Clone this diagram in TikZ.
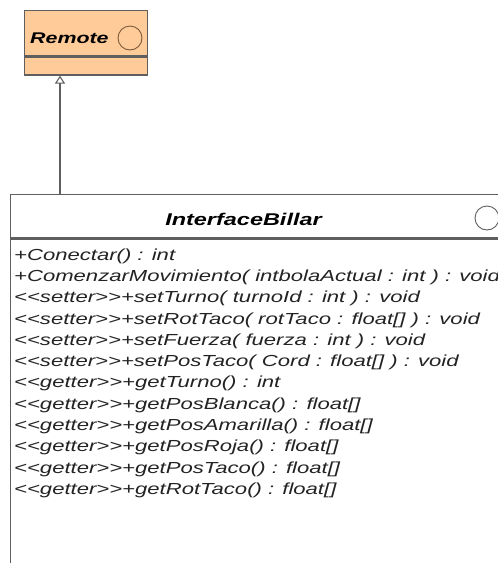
\documentclass[tikz,border=0pt]{standalone}
\usepackage{fontspec}
\setmainfont[FakeStretch=1.38]{Liberation Sans}
\usetikzlibrary{arrows.meta,positioning,calc}
\definecolor{umlpeach}{RGB}{255,204,153}
\definecolor{umlline}{RGB}{95,95,95}
\definecolor{umlbrown}{RGB}{125,90,60}
\definecolor{umltext}{RGB}{35,35,35}
\newcommand{\stereo}[1]{<\kern0pt<#1>\kern0pt>}
\tikzset{
  classbox/.style={draw=umlline, line width=1.3pt, anchor=north west, inner sep=0pt},
  classname/.style={inner sep=0pt, text=black, font=\fontsize{17}{17}\selectfont\bfseries\itshape},
  ifaceicon/.style={circle, draw=umlline, line width=0.9pt, minimum size=24pt, inner sep=0pt},
  oper/.style={anchor=west, inner sep=0pt, text=umltext, font=\fontsize{16}{16}\selectfont\itshape},
  realizes/.style={draw=umlline, line width=1.1pt, -{Triangle[open, length=8pt, width=10pt]}},
}
\begin{document}
\begin{tikzpicture}[x=1pt,y=-1pt]
    \useasboundingbox (0,0) rectangle (498,563);
    \clip (0,0) rectangle (498,563);
    % Remote
    \node[classbox, fill=umlpeach, minimum width=123pt, minimum height=45pt] (remote) at (24,10) {};
    \node[classbox, fill=umlpeach, minimum width=123pt, minimum height=18pt] (remotebody) at (remote.south west) {};
    \node[classname, anchor=west, font=\fontsize{15.5}{15.5}\selectfont\bfseries\itshape] (remotename) at (30,38) {Remote};
    \node[ifaceicon, draw=umlbrown] (remoteicon) at (130,38) {};
    % InterfaceBillar
    \node[classbox, fill=white, minimum width=520pt, minimum height=43pt] (iface) at (10,194) {};
    \node[classbox, fill=white, minimum width=520pt, minimum height=380pt] (ifacebody) at (iface.south west) {};
    \node[classname] (ifacename) at (243.5,219) {InterfaceBillar};
    \node[ifaceicon] (ifaceicon) at (487,218) {};
    \foreach \txt [count=\i] in {
        +Conectar() : int,
        +ComenzarMovimiento( intbolaActual : int ) : void,
        \stereo{setter}+setTurno( turnoId : int ) : void,
        \stereo{setter}+setRotTaco( rotTaco : float[] ) : void,
        \stereo{setter}+setFuerza( fuerza : int ) : void,
        \stereo{setter}+setPosTaco( Cord : float[] ) : void,
        \stereo{getter}+getTurno() : int,
        \stereo{getter}+getPosBlanca() : float[],
        \stereo{getter}+getPosAmarilla() : float[],
        \stereo{getter}+getPosRoja() : float[],
        \stereo{getter}+getPosTaco() : float[],
        \stereo{getter}+getRotTaco() : float[]}
        \node[oper] (op\i) at (14,{256+21.3*(\i-1)}) {\txt};
    % generalization
    \coordinate (gentop) at ($(remotebody.south west)+(36,0)$);
    \coordinate (genbot) at (gentop |- iface.north);
    \draw[realizes] (genbot) -- (gentop);
\end{tikzpicture}
\end{document}
